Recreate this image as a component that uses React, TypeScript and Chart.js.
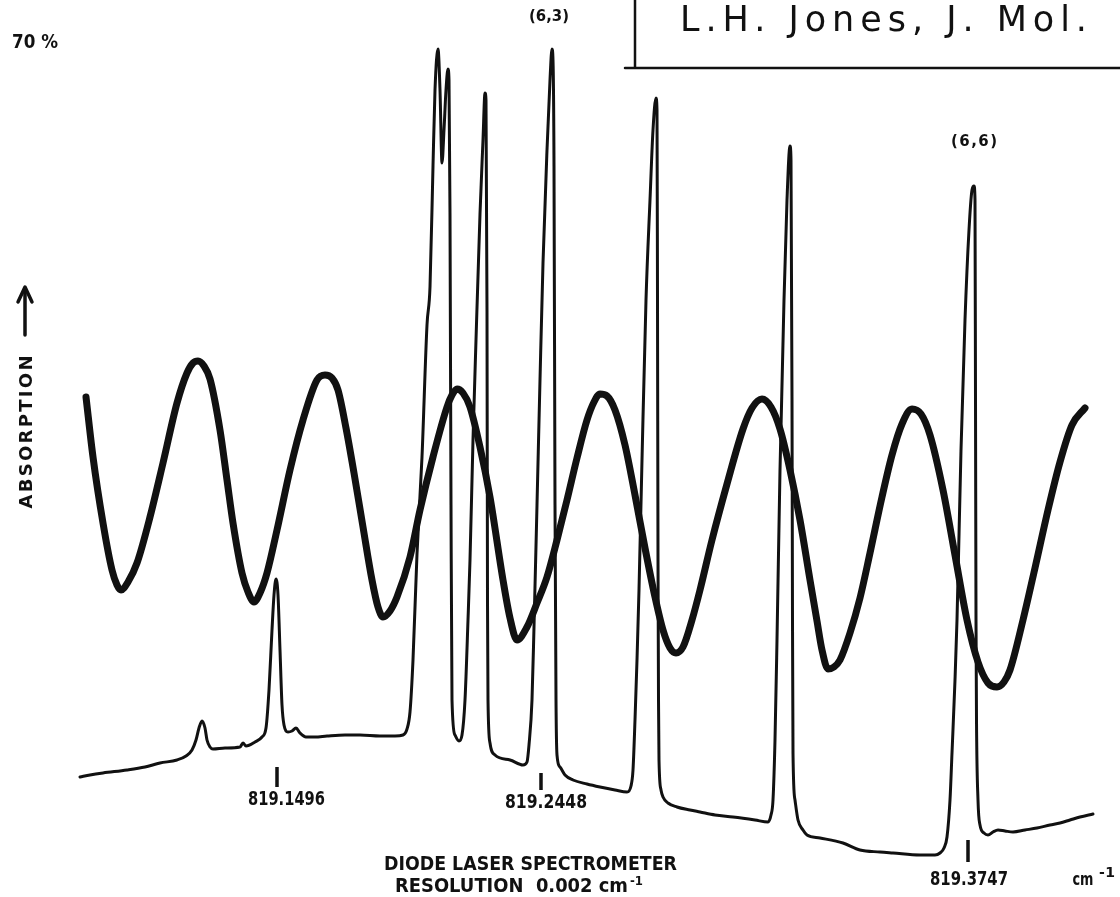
import React, { useEffect, useRef } from "react";
import { Chart, registerables } from "chart.js";

Chart.register(...registerables);

// Scan position (arbitrary units along the laser sweep) and absorption (arbitrary units)
const spectrumX = [
  8.0, 9.0, 10.3, 12.7, 14.5, 16.0, 17.7, 18.6, 19.2, 19.6, 19.9, 20.2, 20.5, 20.7, 21.0, 21.3, 22.5, 24.0, 24.3, 24.6,
  25.5, 26.2, 26.6, 26.9, 27.2, 27.4, 27.6, 27.8, 28.0, 28.2, 28.4, 28.8, 29.2, 29.6, 30.0, 30.6, 31.5, 32.7, 34.5, 36.0,
  38.0, 39.5, 40.3, 40.7, 41.0, 41.3, 41.7, 42.2, 42.7, 43.0, 43.3, 43.5, 43.8, 44.0, 44.2, 44.4, 44.6, 44.8, 44.9, 45.0,
  45.1, 45.2, 45.5, 45.9, 46.2, 46.5, 46.8, 47.0, 47.3, 47.6, 48.0, 48.3, 48.5, 48.6, 48.7, 48.75, 48.8, 49.0, 49.5, 51.0, 52.3,
  52.7, 52.9, 53.2, 53.4, 53.7, 54.0, 54.3, 54.7, 55.0, 55.2, 55.3, 55.4, 55.5, 55.6, 55.7, 56.0, 56.5, 57.3, 58.7, 60.0,
  61.5, 62.7, 63.1, 63.3, 63.5, 63.7, 63.9, 64.2, 64.6, 65.0, 65.3, 65.6, 65.7, 65.75, 65.8, 65.85, 65.9, 66.1, 66.3, 66.8,
  67.7, 69.0, 70.0, 71.5, 73.3, 75.5, 76.8, 77.1, 77.3, 77.5, 77.7, 78.0, 78.4, 78.7, 79.0, 79.1, 79.2, 79.25, 79.3, 79.5,
  79.8, 80.3, 80.7, 82.0, 84.3, 86.0, 88.0, 89.3, 92.0, 93.5, 94.0, 94.4, 94.7, 95.0, 95.2, 95.5, 95.7, 96.1, 96.5, 96.9,
  97.2, 97.4, 97.5, 97.55, 97.6, 97.65, 97.8, 98.0, 98.4, 98.8, 99.3, 99.8, 100.5, 101.3, 102.5, 103.7, 105.0, 106.0, 107.0, 108.0,
  109.3,
];
const spectrumY = [
  12.0, 12.2, 12.4, 12.7, 13.0, 13.4, 13.7, 14.1, 14.7, 15.7, 16.9, 17.6, 16.9, 15.7, 15.0, 14.8, 14.9, 15.0, 15.4, 15.1,
  15.5, 16.0, 16.9, 20.7, 26.7, 30.2, 31.8, 30.2, 24.7, 19.2, 17.2, 16.5, 16.6, 16.9, 16.4, 16.0, 16.0, 16.1, 16.2, 16.2,
  16.1, 16.1, 16.2, 16.8, 18.5, 23.7, 34.3, 44.0, 57.2, 61.0, 73.1, 80.7, 84.8, 80.7, 73.4, 76.7, 80.7, 82.8, 81.7, 68.3,
  39.2, 19.7, 16.2, 15.6, 16.2, 19.7, 27.7, 33.7, 45.7, 55.7, 68.3, 75.7, 80.4, 79.7, 58.6, 29.5, 19.7, 15.4, 14.2, 13.7, 13.2,
  13.5, 15.2, 19.7, 27.0, 39.2, 51.7, 63.4, 74.7, 81.7, 84.8, 83.7, 73.1, 39.2, 19.7, 14.2, 13.0, 12.2, 11.7, 11.3, 11.0,
  10.7, 10.5, 11.1, 12.7, 17.7, 23.7, 30.7, 43.7, 59.7, 69.7, 76.7, 79.9, 78.7, 59.7, 33.7, 19.7, 13.7, 10.7, 10.0, 9.4,
  9.0, 8.7, 8.5, 8.2, 8.0, 7.7, 7.5, 8.2, 9.7, 15.7, 25.7, 42.7, 59.7, 69.7, 75.1, 73.7, 49.7, 27.7, 14.4, 9.7,
  7.7, 6.7, 6.2, 5.9, 5.4, 4.7, 4.5, 4.4, 4.2, 4.2, 4.4, 4.9, 6.0, 9.7, 14.4, 21.7, 27.7, 44.7, 57.7, 66.7,
  70.7, 71.1, 69.7, 49.7, 27.7, 17.7, 9.7, 7.2, 6.4, 6.2, 6.5, 6.7, 6.6, 6.5, 6.7, 6.9, 7.2, 7.4, 7.7, 8.0,
  8.3,
];

// Etalon (fringe) trace
const fringeX = [
  8.6, 9.3, 10.3, 11.2, 11.7, 12.1, 12.8, 13.7, 15.0, 16.3, 17.7, 18.7, 19.3, 19.8, 20.4, 21.0, 22.0, 22.7, 23.3, 24.2,
  24.8, 25.4, 26.0, 26.7, 27.7, 29.0, 30.3, 31.7, 32.5, 33.2, 33.8, 34.6, 35.4, 36.3, 37.2, 37.8, 38.3, 39.0, 39.7, 41.0,
  42.0, 43.3, 44.7, 45.2, 45.7, 46.3, 47.0, 48.0, 49.0, 50.3, 51.0, 51.7, 52.7, 53.7, 54.7, 55.7, 56.7, 57.7, 58.7, 59.4,
  60.0, 60.7, 61.5, 62.5, 63.5, 64.5, 65.5, 66.3, 67.0, 67.6, 68.3, 69.2, 70.0, 71.2, 72.7, 74.3, 75.2, 76.2, 77.1,
  78.0, 79.0, 80.0, 81.0, 81.7, 82.2, 82.8, 83.4, 84.0, 85.0, 86.0, 87.0, 88.2, 89.2, 90.2, 91.2, 92.1, 93.0, 94.3, 95.5,
  96.7, 97.8, 98.8, 99.7, 100.4, 101.0, 102.3, 103.5, 104.8, 106.0, 107.2, 108.5,
];
const fringeY = [
  50.0, 44.0, 37.4, 32.7, 31.2, 30.7, 31.5, 33.4, 38.0, 43.4, 49.4, 52.4, 53.4, 53.6, 53.1, 51.8, 46.7, 41.7, 37.4, 32.4,
  30.5, 29.5, 30.4, 32.4, 36.7, 42.7, 47.7, 51.7, 52.2, 51.9, 50.7, 46.9, 42.4, 37.0, 31.7, 29.0, 28.0, 28.6, 30.0, 34.0,
  38.7, 44.0, 49.0, 50.2, 50.8, 50.4, 49.0, 45.0, 40.0, 31.7, 27.9, 25.7, 27.0, 29.4, 32.0, 35.7, 39.7, 43.9, 47.7, 49.5,
  50.3, 50.1, 48.7, 45.2, 40.2, 34.9, 30.0, 26.7, 24.9, 24.4, 25.0, 27.7, 30.7, 35.7, 41.3, 46.8, 48.9, 49.8, 49.0,
  46.8, 42.7, 37.7, 31.7, 27.6, 24.7, 22.8, 23.0, 23.7, 26.4, 29.9, 34.4, 40.0, 44.2, 47.3, 48.8, 48.3, 46.2, 40.7, 34.2,
  27.7, 23.5, 21.4, 21.0, 21.5, 22.7, 27.7, 32.9, 38.7, 43.5, 47.2, 48.9,
];

// Wavenumber markers (cm-1) and their scan positions
const wavenumberLabels = ["819.1496", "819.2448", "819.3747"];
const wavenumberPos = [27.7, 54.1, 96.8];

// Assigned lines
const lineLabels = ["(6,3)", "(6,6)"];
const linePos = [54.9, 97.4];

const INK = "#111";
const FONT = "'DejaVu Sans', 'Liberation Sans', sans-serif";

function drawFit(ctx: CanvasRenderingContext2D, text: string, cx: number, by: number, width: number, font: string) {
  ctx.font = font;
  (ctx as any).letterSpacing = "0px";
  ctx.textAlign = "left";
  ctx.textBaseline = "alphabetic";
  const w = ctx.measureText(text).width;
  const left = cx - width / 2;
  if (w >= width) {
    ctx.fillText(text, left, by, width);
  } else {
    const n = Array.from(text).length;
    const ls = (width - w) / Math.max(1, n - 1);
    (ctx as any).letterSpacing = ls + "px";
    ctx.fillText(text, left, by);
    (ctx as any).letterSpacing = "0px";
  }
}

const annotPlugin = {
  id: "annot",
  afterDraw(chart: any) {
    const ctx: CanvasRenderingContext2D = chart.ctx;
    const xs = chart.scales.x;
    const ys = chart.scales.y;
    const X = (v: number) => xs.getPixelForValue(v);
    const Y = (v: number) => ys.getPixelForValue(v);
    ctx.save();
    ctx.fillStyle = INK;
    ctx.strokeStyle = INK;
    ctx.lineCap = "round";

    // citation box
    ctx.lineWidth = 2.5;
    ctx.beginPath();
    ctx.moveTo(X(63.5), Y(89.7));
    ctx.lineTo(X(63.5), Y(82.9));
    ctx.moveTo(X(62.5), Y(82.9));
    ctx.lineTo(X(112), Y(82.9));
    ctx.stroke();
    drawFit(ctx, "L.H. Jones, J. Mol.", X(88.35), Y(86.6), 407, `35px ${FONT}`);

    // 70 % label
    drawFit(ctx, "70 %", X(3.5), Y(84.9), 46, `bold 19px ${FONT}`);

    // line assignments
    const lineBase = [Y(87.6), Y(75.1)];
    const lineW = [40, 46];
    lineLabels.forEach((t, i) => drawFit(ctx, t, X(linePos[i]), lineBase[i], lineW[i], `bold 15px ${FONT}`));

    // wavenumber markers
    const tickTop = [Y(13.0), Y(12.4), Y(5.7)];
    const tickBot = [Y(11.0), Y(10.7), Y(3.5)];
    const labCx = [X(28.65), X(54.6), X(96.9)];
    const labBase = [Y(9.2), Y(8.9), Y(1.2)];
    const labW = [77, 82, 78];
    ctx.lineWidth = 3.5;
    ctx.lineCap = "butt";
    wavenumberPos.forEach((p, i) => {
      ctx.beginPath();
      ctx.moveTo(X(p), tickTop[i]);
      ctx.lineTo(X(p), tickBot[i]);
      ctx.stroke();
      drawFit(ctx, wavenumberLabels[i], labCx[i], labBase[i], labW[i], `bold 19px ${FONT}`);
    });

    // unit
    drawFit(ctx, "cm", X(108.3), Y(1.2), 21, `bold 18px ${FONT}`);
    drawFit(ctx, "-1", X(110.7), Y(2.0), 16, `bold 14px ${FONT}`);

    // instrument caption
    drawFit(ctx, "DIODE LASER SPECTROMETER", X(53.05), Y(2.7), 293, `bold 20px ${FONT}`);
    drawFit(ctx, "RESOLUTION  0.002 cm", X(51.15), Y(0.5), 233, `bold 20px ${FONT}`);
    drawFit(ctx, "-1", X(63.65), Y(1.2), 13, `bold 13px ${FONT}`);

    // vertical axis caption with arrow
    ctx.save();
    ctx.translate(X(2.5), Y(46.5));
    ctx.rotate(-Math.PI / 2);
    drawFit(ctx, "ABSORPTION", 0, 7, 153, `bold 18px ${FONT}`);
    ctx.restore();
    ctx.lineWidth = 3.5;
    ctx.lineCap = "round";
    ctx.lineJoin = "round";
    ctx.beginPath();
    ctx.moveTo(X(2.5), Y(56.2));
    ctx.lineTo(X(2.5), Y(60.8));
    ctx.stroke();
    ctx.beginPath();
    ctx.moveTo(X(1.8), Y(59.5));
    ctx.lineTo(X(2.5), Y(61.0));
    ctx.lineTo(X(3.2), Y(59.5));
    ctx.stroke();

    ctx.restore();
  },
};

export default function App() {
  const ref = useRef<HTMLCanvasElement | null>(null);
  useEffect(() => {
    if (!ref.current) return;
    const chart = new Chart(ref.current, {
      type: "line",
      data: {
        datasets: [
          {
            data: fringeX.map((x, i) => ({ x, y: fringeY[i] })),
            borderColor: INK,
            borderWidth: 7,
            pointRadius: 0,
            cubicInterpolationMode: "monotone",
            borderJoinStyle: "round",
            borderCapStyle: "round",
            fill: false,
          },
          {
            data: spectrumX.map((x, i) => ({ x, y: spectrumY[i] })),
            borderColor: INK,
            borderWidth: 3,
            pointRadius: 0,
            cubicInterpolationMode: "monotone",
            borderJoinStyle: "round",
            borderCapStyle: "round",
            fill: false,
          },
        ],
      },
      options: {
        animation: false,
        responsive: false,
        events: [],
        layout: { padding: 0 },
        plugins: { legend: { display: false }, tooltip: { enabled: false } },
        scales: {
          x: { type: "linear", min: 0, max: 112, display: false },
          y: { type: "linear", min: 0, max: 89.7, display: false },
        },
      },
      plugins: [annotPlugin],
    } as any);
    return () => chart.destroy();
  }, []);
  return (
    <div style={{ position: "fixed", left: 0, top: 0, width: 1120, height: 897, background: "#fff" }}>
      <canvas ref={ref} width={1120} height={897} style={{ display: "block" }} />
    </div>
  );
}
